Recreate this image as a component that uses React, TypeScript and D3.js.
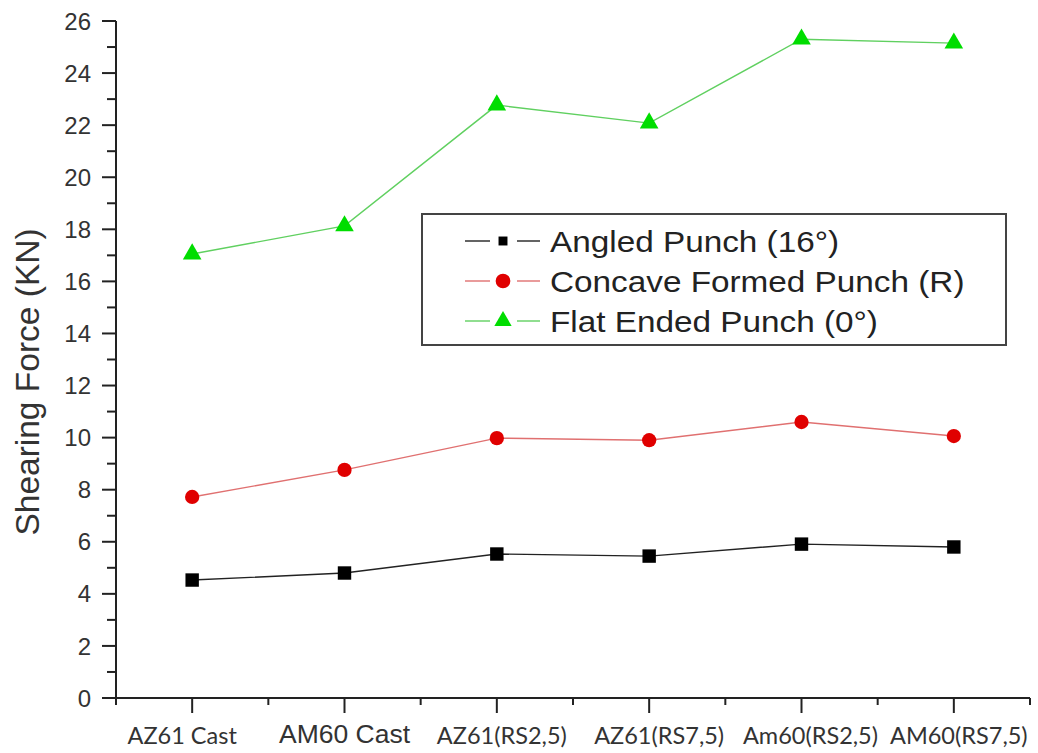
import React, { useEffect, useRef } from "react";
import * as d3 from "d3";

const categories = ["AZ61 Cast", "AM60 Cast", "AZ61(RS2,5)", "AZ61(RS7,5)", "Am60(RS2,5)", "AM60(RS7,5)"];
const angled = [4.53, 4.8, 5.53, 5.45, 5.91, 5.8];
const concave = [7.72, 8.76, 9.98, 9.9, 10.6, 10.06];
const flat = [17.05, 18.13, 22.77, 22.08, 25.3, 25.15];
const yTicks = d3.range(0, 27, 2);

// the category labels in the source sit a little off their ticks
const labelShift = [-10, 0, 5, 10, 9, 5];

const series = [
  { name: "Angled Punch (16°)", values: angled, color: "#000", line: "#222", shape: d3.symbolSquare, size: 180, legSize: 80 },
  { name: "Concave Formed Punch (R)", values: concave, color: "#e00000", line: "#e07070", shape: d3.symbolCircle, size: 160, legSize: 170 },
  { name: "Flat Ended Punch (0°)", values: flat, color: "#00dd00", line: "#60d060", shape: d3.symbolTriangle, size: 150, legSize: 130 },
];

const App = () => {
  const ref = useRef<SVGSVGElement>(null);

  useEffect(() => {
    const svg = d3.select(ref.current);
    svg.selectAll("*").remove();

    // plot frame
    const x0 = 116, x1 = 1030, yTop = 21, yBot = 698;
    const xScale = d3.scaleLinear().domain([0.5, 6.5]).range([x0, x1]);
    const yScale = d3.scaleLinear().domain([0, 26]).range([yBot, yTop]);
    const axisColor = "#222";

    const g = svg.append("g");

    // y axis
    g.append("line").attr("x1", x0).attr("x2", x0).attr("y1", yTop).attr("y2", yBot)
      .attr("stroke", axisColor).attr("stroke-width", 2);
    g.selectAll(".ymaj").data(yTicks).enter().append("line")
      .attr("x1", x0 - 14).attr("x2", x0)
      .attr("y1", (d) => yScale(d)).attr("y2", (d) => yScale(d))
      .attr("stroke", axisColor).attr("stroke-width", 2);
    g.selectAll(".ymin").data(d3.range(1, 26, 2)).enter().append("line")
      .attr("x1", x0 - 9).attr("x2", x0)
      .attr("y1", (d) => yScale(d)).attr("y2", (d) => yScale(d))
      .attr("stroke", axisColor).attr("stroke-width", 2);
    g.selectAll(".ylab").data(yTicks).enter().append("text")
      .attr("x", x0 - 25).attr("y", (d) => yScale(d))
      .attr("dy", "0.36em").attr("text-anchor", "end")
      .attr("font-family", "Liberation Sans, Arial, sans-serif")
      .attr("font-size", 24).attr("fill", "#333")
      .text((d) => d);

    // x axis
    g.append("line").attr("x1", x0).attr("x2", x1).attr("y1", yBot).attr("y2", yBot)
      .attr("stroke", axisColor).attr("stroke-width", 2);
    g.selectAll(".xmaj").data(d3.range(1, 7)).enter().append("line")
      .attr("x1", (d) => xScale(d)).attr("x2", (d) => xScale(d))
      .attr("y1", yBot).attr("y2", yBot + 15)
      .attr("stroke", axisColor).attr("stroke-width", 2);
    g.selectAll(".xmin").data(d3.range(0.5, 7, 1)).enter().append("line")
      .attr("x1", (d) => xScale(d)).attr("x2", (d) => xScale(d))
      .attr("y1", yBot).attr("y2", yBot + 7)
      .attr("stroke", axisColor).attr("stroke-width", 2);
    g.selectAll(".xlab").data(categories).enter().append("text")
      .attr("x", (d, i) => xScale(i + 1) + labelShift[i])
      .attr("y", (d, i) => (i === 1 ? 743 : 744))
      .attr("text-anchor", "middle")
      .attr("font-family", (d, i) => (i === 1 ? "Liberation Sans, Arial, sans-serif" : "Lato, sans-serif"))
      .attr("font-size", (d, i) => (i === 1 ? 26.5 : 23.5))
      .attr("fill", "#333")
      .text((d) => d);

    // y axis title
    svg.append("text")
      .attr("transform", `translate(39,382) rotate(-90)`)
      .attr("text-anchor", "middle")
      .attr("font-family", "Liberation Sans, Arial, sans-serif")
      .attr("font-size", 33.5).attr("fill", "#333")
      .text("Shearing Force (KN)");

    // series lines + markers
    const line = d3.line<number>().x((d, i) => xScale(i + 1)).y((d) => yScale(d));
    series.forEach((s) => {
      g.append("path").datum(s.values).attr("d", line)
        .attr("fill", "none").attr("stroke", s.line).attr("stroke-width", 1.4);
      g.selectAll(null).data(s.values).enter().append("path")
        .attr("d", d3.symbol().type(s.shape).size(s.size))
        .attr("transform", (d, i) => `translate(${xScale(i + 1)},${yScale(d)})`)
        .attr("fill", s.color);
    });

    // legend
    const leg = svg.append("g").attr("transform", "translate(422,214)");
    leg.append("rect").attr("width", 584).attr("height", 131)
      .attr("fill", "white").attr("stroke", "#444").attr("stroke-width", 2);
    series.forEach((s, i) => {
      const cy = 27 + i * 40;
      leg.append("line").attr("x1", 43).attr("x2", 68).attr("y1", cy).attr("y2", cy)
        .attr("stroke", s.line).attr("stroke-width", 1.4);
      leg.append("line").attr("x1", 95).attr("x2", 118).attr("y1", cy).attr("y2", cy)
        .attr("stroke", s.line).attr("stroke-width", 1.4);
      leg.append("path").attr("d", d3.symbol().type(s.shape).size(s.legSize))
        .attr("transform", `translate(81,${cy})`).attr("fill", s.color);
      leg.append("text").attr("transform", `translate(128,${cy}) scale(1.11,1)`)
        .attr("dy", "0.36em")
        .attr("font-family", "Liberation Sans, Arial, sans-serif")
        .attr("font-size", 30).attr("fill", "#222")
        .text(s.name);
    });
  }, []);

  return (
    <svg
      ref={ref}
      width={1038}
      height={753}
      style={{ position: "absolute", left: 0, top: 0, background: "white" }}
    />
  );
};

export default App;
